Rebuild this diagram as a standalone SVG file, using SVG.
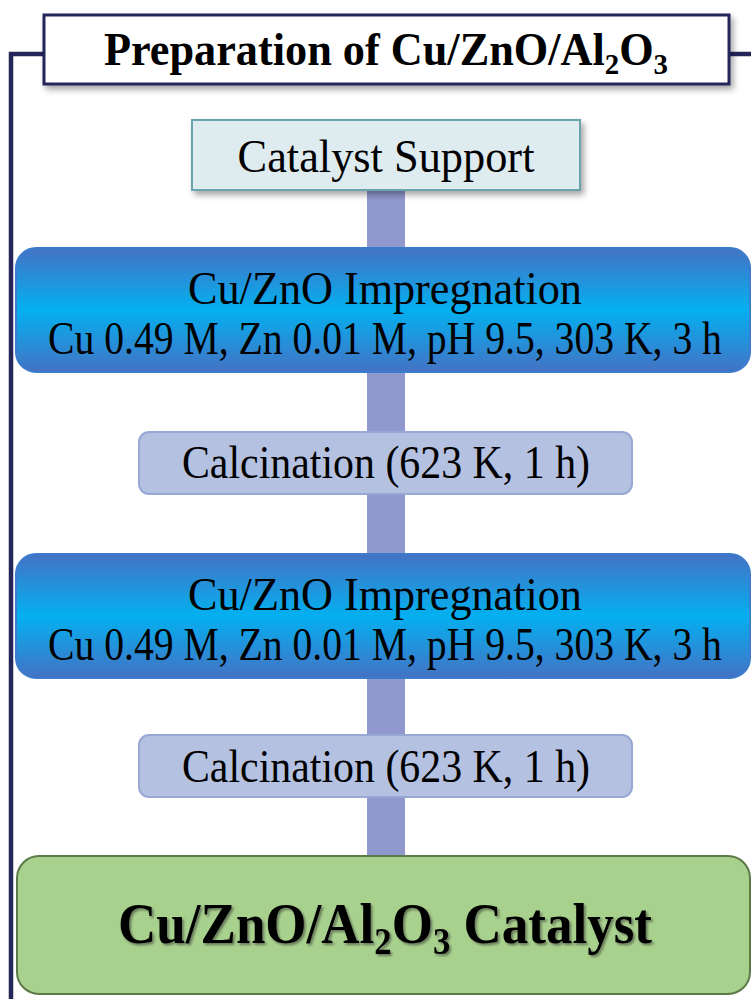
<svg xmlns="http://www.w3.org/2000/svg" width="751" height="999" viewBox="0 0 751 999">
  <defs>
    <linearGradient id="gradBlue" x1="0" y1="0" x2="0" y2="1">
      <stop offset="0" stop-color="#4472c4"/>
      <stop offset="0.5" stop-color="#04b0f0"/>
      <stop offset="1" stop-color="#4472c4"/>
    </linearGradient>
    <filter id="boxShadow" x="-5%" y="-20%" width="115%" height="150%">
      <feDropShadow dx="3" dy="4" stdDeviation="3" flood-color="#000" flood-opacity="0.35"/>
    </filter>
    <filter id="textShadow" x="-5%" y="-20%" width="110%" height="150%">
      <feDropShadow dx="2" dy="2" stdDeviation="1" flood-color="#333" flood-opacity="0.55"/>
    </filter>
  </defs>
  <style>
    .serif { font-family: "Liberation Serif", "Times New Roman", serif; fill: #000; text-anchor: middle; }
    .bold { font-weight: bold; }
    .bracket { fill: none; stroke: #24265a; stroke-width: 4.5; }
    .bar { fill: #9198ce; }
    .impreg { fill: url(#gradBlue); stroke: #3b7ccc; stroke-width: 2; }
    .calc { fill: #b4c1e1; stroke: #98a8d5; stroke-width: 2; }
  </style>

  <!-- outer bracket lines and the central spine -->
  <g id="connectors">
    <path class="bracket" d="M44 54 H11 V999"/>
    <path class="bracket" d="M729 54 H751"/>
    <rect class="bar" x="367" y="150" width="38" height="720"/>
  </g>

  <!-- title (glyphs narrowed horizontally) -->
  <g id="title">
    <rect x="44" y="15" width="685" height="69" fill="#fff" stroke="#24265a" stroke-width="3" filter="url(#boxShadow)"/>
    <text class="serif bold" transform="translate(386 65) scale(0.9625 1)" font-size="46">Preparation of Cu/ZnO/Al<tspan font-size="30" dy="9">2</tspan><tspan dy="-9">O</tspan><tspan font-size="30" dy="9">3</tspan></text>
  </g>

  <!-- support -->
  <g id="support">
    <rect x="192" y="120" width="388" height="70" fill="#deebef" stroke="#6aa5ad" stroke-width="2" filter="url(#boxShadow)"/>
    <text class="serif" transform="translate(386 172) scale(0.944 1)" font-size="47">Catalyst Support</text>
  </g>

  <!-- first impregnation -->
  <g id="impregnation1">
    <rect class="impreg" x="16" y="248" width="734" height="124" rx="20"/>
    <text class="serif" transform="translate(385 304) scale(0.94 1)" font-size="47">Cu/ZnO Impregnation</text>
    <text class="serif" transform="translate(385 354) scale(0.8436 1)" font-size="47">Cu 0.49 M, Zn 0.01 M, pH 9.5, 303 K, 3 h</text>
  </g>

  <!-- first calcination -->
  <g id="calcination1">
    <rect class="calc" x="139" y="432" width="493" height="62" rx="10"/>
    <text class="serif" transform="translate(386 478) scale(0.891 1)" font-size="47">Calcination (623 K, 1 h)</text>
  </g>

  <!-- second impregnation -->
  <g id="impregnation2">
    <rect class="impreg" x="16" y="554" width="734" height="124" rx="20"/>
    <text class="serif" transform="translate(385 610) scale(0.94 1)" font-size="47">Cu/ZnO Impregnation</text>
    <text class="serif" transform="translate(385 660) scale(0.8436 1)" font-size="47">Cu 0.49 M, Zn 0.01 M, pH 9.5, 303 K, 3 h</text>
  </g>

  <!-- second calcination -->
  <g id="calcination2">
    <rect class="calc" x="139" y="735" width="493" height="62" rx="10"/>
    <text class="serif" transform="translate(386 782) scale(0.891 1)" font-size="47">Calcination (623 K, 1 h)</text>
  </g>

  <!-- final catalyst -->
  <g id="catalyst">
    <rect x="17" y="856" width="733" height="138" rx="22" fill="#a9d18e" stroke="#5b7a48" stroke-width="2"/>
    <text class="serif bold" transform="translate(385 943) scale(0.914 1)" font-size="58" filter="url(#textShadow)">Cu/ZnO/Al<tspan font-size="38" dy="11">2</tspan><tspan dy="-11">O</tspan><tspan font-size="38" dy="11">3</tspan><tspan dy="-11"> Catalyst</tspan></text>
  </g>
</svg>
